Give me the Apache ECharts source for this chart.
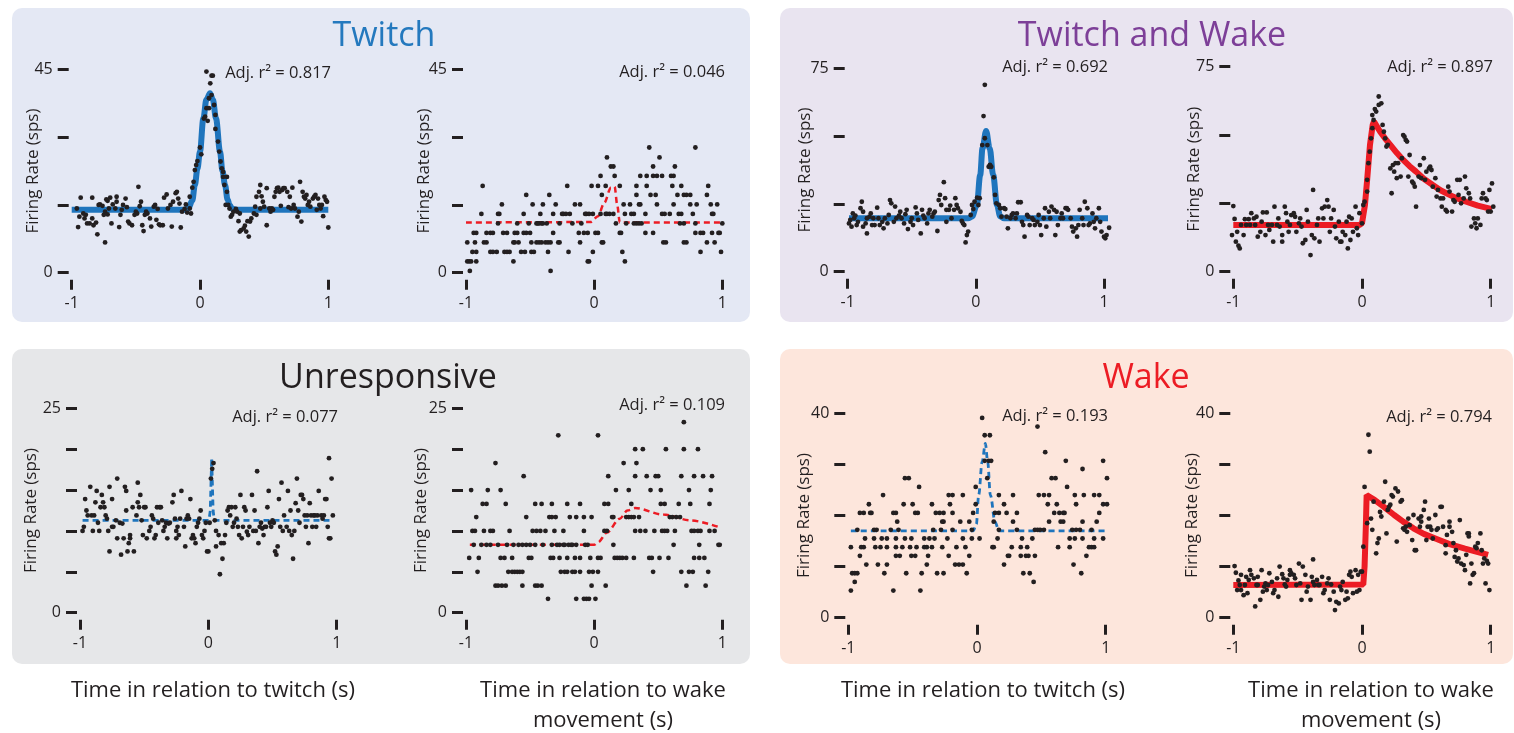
<!DOCTYPE html>
<html>
<head>
<meta charset="utf-8">
<script src="https://cdn.jsdelivr.net/npm/echarts@6/dist/echarts.min.js"></script>
<style>
  html, body { margin: 0; padding: 0; background: #ffffff; }
  #chart { width: 1514px; height: 733px; }
</style>
</head>
<body>
<div id="chart"></div>
<script>
// ---------- data ----------
const groupTitles = ['Twitch', 'Twitch and Wake', 'Unresponsive', 'Wake'];
const xTickValues = [-1, 0, 1];
const xAxisTitles = ['Time in relation to twitch (s)', 'Time in relation to wake\nmovement (s)'];
const yAxisTitle = 'Firing Rate (sps)';
const yMaxes = [45, 45, 75, 75, 25, 25, 40, 40];
const ySteps = [15, 15, 25, 25, 5, 5, 10, 10];
const adjR2 = ['0.817', '0.046', '0.692', '0.897', '0.077', '0.109', '0.193', '0.794'];

// Twitch-responsive unit, aligned to twitches
const twitchUnitTwitch = [[-0.96,14.2],[-0.95,10.1],[-0.93,16.6],[-0.94,12.4],[-0.91,13.1],[-0.90,12.0],[-0.89,12.8],[-0.88,10.9],[-0.86,10.9],[-0.84,16.6],[-0.84,12.0],[-0.83,10.5],[-0.81,11.1],[-0.80,8.5],[-0.79,15.0],[-0.78,15.1],[-0.76,14.8],[-0.75,12.8],[-0.74,13.5],[-0.73,16.2],[-0.74,6.7],[-0.72,15.9],[-0.72,12.9],[-0.71,14.2],[-0.70,16.6],[-0.69,10.9],[-0.68,15.1],[-0.66,14.2],[-0.65,16.8],[-0.65,15.7],[-0.63,10.1],[-0.62,12.8],[-0.61,13.9],[-0.60,15.0],[-0.58,16.4],[-0.57,14.5],[-0.56,11.3],[-0.55,10.9],[-0.53,10.5],[-0.51,12.8],[-0.50,13.5],[-0.49,13.1],[-0.48,19.0],[-0.47,14.7],[-0.46,15.7],[-0.45,10.5],[-0.44,9.2],[-0.43,12.8],[-0.42,13.5],[-0.41,13.1],[-0.39,12.0],[-0.38,10.2],[-0.36,14.6],[-0.35,15.0],[-0.34,11.7],[-0.33,14.1],[-0.32,10.7],[-0.31,10.5],[-0.29,10.5],[-0.28,16.6],[-0.26,17.3],[-0.25,14.2],[-0.23,15.0],[-0.22,10.2],[-0.21,15.7],[-0.19,17.6],[-0.18,17.9],[-0.17,16.4],[-0.16,15.3],[-0.15,10.0],[-0.14,13.5],[-0.12,14.1],[-0.11,15.1],[-0.10,13.3],[-0.08,16.8],[-0.08,14.2],[-0.07,13.1],[-0.06,18.8],
  [-0.05,20.1],[-0.04,22.7],[-0.03,23.8],[-0.02,24.7],[0.00,27.7],[0.01,26.2],[0.03,34.1],[0.04,34.5],[0.05,36.4],[0.06,33.6],[0.07,36.4],[0.07,38.6],[0.08,41.9],[0.09,43.6],[0.05,44.5],[0.10,43.6],[0.09,39.3],[0.11,37.1],[0.12,34.9],[0.12,31.8],[0.14,29.0],[0.15,26.8],[0.16,24.6],[0.17,23.1],[0.18,21.2],[0.18,22.3],[0.19,19.4],[0.20,15.0],[0.21,21.2],[0.21,17.9],[0.22,15.0],[0.23,14.2],[0.24,12.4],[0.25,12.8],[0.26,13.5],[0.28,14.1],[0.29,13.5],[0.30,11.4],[0.31,13.1],[0.31,9.1],[0.32,9.4],[0.34,9.8],[0.35,10.4],[0.36,9.1],[0.37,11.4],[0.38,8.0],[0.39,11.3],[0.40,12.0],[0.42,13.1],[0.43,14.6],[0.44,12.8],[0.44,16.8],[0.46,17.9],[0.47,19.4],[0.47,14.2],[0.48,16.9],[0.49,15.7],[0.50,14.6],[0.52,10.5],[0.52,18.7],[0.54,14.2],[0.55,13.5],[0.56,14.2],[0.57,13.9],[0.58,16.8],[0.59,17.9],[0.60,18.7],[0.61,18.8],[0.62,17.9],[0.63,14.8],[0.64,18.3],[0.65,18.7],[0.66,18.7],[0.68,17.9],[0.69,14.5],[0.70,16.8],[0.71,14.2],[0.72,18.8],[0.73,15.0],[0.74,14.2],[0.76,12.4],[0.77,13.5],[0.78,20.1],[0.79,11.3],[0.80,17.9],[0.81,16.8],[0.82,16.4],[0.83,17.2],[0.84,15.0],[0.85,15.7],[0.86,14.6],[0.88,16.4],[0.89,16.8],[0.90,17.2],[0.91,13.9],[0.92,16.4],[0.93,15.0],[0.94,14.2],[0.95,15.0],[0.96,12.5],[0.97,16.8],[0.98,16.1],[0.99,15.7],[1.00,10.0]];
const twitchUnitTwitchFit = [[-1,13.9],[-0.12,13.9],[-0.09,14.3],[-0.06,16.0],[-0.04,19.4],[-0.02,23.0],[0,26.8],[0.026,34.1],[0.05,38.3],[0.078,39.7],[0.10,38.3],[0.125,34.1],[0.156,26.8],[0.175,22.5],[0.195,19.4],[0.215,16.2],[0.23,15.0],[0.25,14.2],[0.28,13.9],[1,13.9]];

// Twitch-responsive unit, aligned to wake movements
const twitchUnitWake = [
  [0.43,27.7],[0.79,27.7],
  [0.10,25.5],[0.51,25.5],
  [0.13,23.5],[0.15,23.5],[0.46,23.5],[0.63,23.5],
  [0.05,21.4],[0.16,21.4],[0.36,21.4],[0.41,21.4],[0.46,21.4],[0.49,21.4],[0.53,21.4],[0.60,21.4],[0.62,21.4],
  [-0.87,19.2],[-0.21,19.2],[-0.02,19.2],[0.03,19.2],[0.09,19.2],[0.20,19.2],[0.33,19.2],[0.41,19.2],[0.61,19.2],[0.68,19.2],[0.89,19.2],
  [-0.53,17.2],[-0.35,17.2],[0.06,17.2],[0.33,17.2],[0.44,17.2],[0.48,17.2],[0.65,17.2],[0.70,17.2],[0.72,17.2],[0.75,17.2],[0.88,17.2],
  [-0.72,15.1],[-0.48,15.1],[-0.40,15.1],[-0.30,15.1],[-0.15,15.1],[-0.11,15.1],[0.23,15.1],[0.28,15.1],[0.35,15.1],[0.36,15.1],[0.49,15.1],[0.62,15.1],[0.75,15.1],[0.80,15.1],[0.91,15.1],[0.96,15.1],
  [-0.88,13.0],[-0.75,13.0],[-0.74,13.0],[-0.55,13.0],[-0.42,13.0],[-0.32,13.0],[-0.25,13.0],[-0.24,13.0],[-0.22,13.0],[-0.19,13.0],[-0.07,13.0],[-0.06,13.0],[-0.04,13.0],[-0.01,13.0],[0.05,13.0],[0.09,13.0],[0.10,13.0],[0.12,13.0],[0.15,13.0],[0.24,13.0],[0.29,13.0],[0.31,13.0],[0.40,13.0],[0.53,13.0],[0.55,13.0],[0.59,13.0],[0.66,13.0],[0.68,13.0],[0.77,13.0],[0.92,13.0],[0.93,13.0],
  [-0.75,10.9],[-0.60,10.9],[-0.51,10.9],[-0.45,10.9],[-0.44,10.9],[-0.43,10.9],[-0.41,10.9],[-0.40,10.9],[-0.37,10.9],[-0.27,10.9],[-0.17,10.9],[-0.10,10.9],[0.17,10.9],[0.25,10.9],[0.31,10.9],[0.33,10.9],[0.35,10.9],[0.37,10.9],[0.67,10.9],[0.70,10.9],[0.79,10.9],[1.00,10.9],
  [-0.94,8.8],[-0.92,8.8],[-0.84,8.8],[-0.81,8.8],[-0.79,8.8],[-0.71,8.8],[-0.68,8.8],[-0.62,8.8],[-0.60,8.8],[-0.55,8.8],[-0.53,8.8],[-0.50,8.8],[-0.32,8.8],[-0.12,8.8],[-0.08,8.8],[-0.05,8.8],[0.01,8.8],[0.03,8.8],[0.20,8.8],[0.21,8.8],[0.40,8.8],[0.46,8.8],[0.79,8.8],[0.83,8.8],[0.85,8.8],[0.92,8.8],[0.97,8.8],[0.98,8.8],
  [-0.99,6.7],[-0.93,6.7],[-0.86,6.7],[-0.84,6.7],[-0.63,6.7],[-0.62,6.7],[-0.59,6.7],[-0.49,6.7],[-0.45,6.7],[-0.43,6.7],[-0.41,6.7],[-0.38,6.7],[-0.36,6.7],[-0.34,6.7],[-0.28,6.7],[-0.27,6.7],[-0.11,6.7],[0.06,6.7],[0.07,6.7],[0.54,6.7],[0.56,6.7],[0.70,6.7],[0.72,6.7],[0.88,6.7],[0.94,6.7],
  [-0.95,4.6],[-0.92,4.6],[-0.81,4.6],[-0.79,4.6],[-0.76,4.6],[-0.70,4.6],[-0.68,4.6],[-0.66,4.6],[-0.57,4.6],[-0.54,4.6],[-0.49,4.6],[-0.47,4.6],[-0.36,4.6],[-0.20,4.6],[-0.01,4.6],[0.22,4.6],[0.83,4.6],[0.99,4.6],
  [-0.99,2.5],[-0.975,2.5],[-0.96,2.5],[-0.92,2.5],[-0.63,2.5],[-0.05,2.5],[-0.04,2.5],[0.24,2.5],
  [-0.97,0.4],[-0.34,0.4]];
const twitchUnitWakeFit = [[-1,11.1],[-0.03,11.2],[0.03,12.5],[0.08,15.5],[0.13,18.8],[0.16,19.0],[0.18,15.0],[0.20,11.1],[1,11.1]];

// Twitch-and-wake unit, aligned to twitches
const bothUnitTwitch = [[-0.99,17.8],[-0.98,19.1],[-0.97,16.6],[-0.96,21.5],[-0.95,19.7],[-0.94,20.7],[-0.93,17.2],[-0.92,18.4],[-0.90,23.4],[-0.89,25.8],[-0.88,22.1],[-0.88,16.6],[-0.86,17.8],[-0.85,14.1],[-0.85,19.7],[-0.83,20.3],[-0.82,21.5],[-0.81,17.2],[-0.80,19.7],[-0.79,17.2],[-0.77,23.6],[-0.76,19.7],[-0.75,17.2],[-0.73,18.4],[-0.72,16.0],[-0.71,19.7],[-0.69,17.8],[-0.68,20.9],[-0.67,26.4],[-0.66,25.2],[-0.64,18.4],[-0.63,24.0],[-0.62,19.7],[-0.60,20.7],[-0.59,22.1],[-0.58,19.7],[-0.56,17.8],[-0.55,21.2],[-0.54,22.8],[-0.53,15.7],[-0.51,18.4],[-0.50,19.7],[-0.49,17.2],[-0.47,23.7],[-0.46,21.5],[-0.45,19.1],[-0.43,14.1],[-0.42,22.8],[-0.41,20.7],[-0.40,19.7],[-0.38,17.8],[-0.37,21.5],[-0.36,22.8],[-0.34,20.3],[-0.33,21.5],[-0.32,22.1],[-0.30,15.0],[-0.29,26.4],[-0.28,28.3],[-0.27,24.6],[-0.25,33.0],[-0.24,27.1],[-0.23,22.8],[-0.23,18.4],[-0.21,22.8],[-0.20,24.4],[-0.19,19.7],[-0.17,22.8],[-0.16,27.1],[-0.15,24.6],[-0.14,23.4],[-0.12,22.1],[-0.11,18.7],[-0.10,17.8],[-0.09,17.2],[-0.08,10.8],[-0.07,13.5],[-0.06,14.8],[-0.04,20.9],[-0.03,24.6],[-0.02,23.1],[-0.01,25.8],[0.01,27.3],[0.02,24.6],[0.03,27.1],[0.05,46.7],[0.06,57.4],[0.07,68.9],[0.07,49.2],[0.09,46.7],[0.10,38.7],[0.11,39.4],[0.12,38.7],[0.14,34.8],[0.15,28.3],[0.16,25.2],[0.18,24.6],[0.19,23.4],[0.20,20.3],[0.22,23.4],[0.23,23.1],[0.24,20.3],[0.25,16.0],[0.27,19.7],[0.28,20.9],[0.29,21.5],[0.31,19.7],[0.32,21.5],[0.33,25.6],[0.35,25.6],[0.36,18.4],[0.37,17.2],[0.38,12.9],[0.40,20.9],[0.41,20.3],[0.42,17.2],[0.44,19.7],[0.45,19.1],[0.46,17.2],[0.48,18.4],[0.49,20.9],[0.50,17.2],[0.51,13.5],[0.53,19.7],[0.54,23.4],[0.55,16.6],[0.57,22.1],[0.58,19.7],[0.59,24.0],[0.61,22.8],[0.62,13.5],[0.63,22.1],[0.64,17.2],[0.66,19.7],[0.67,21.5],[0.68,19.7],[0.70,23.4],[0.71,23.4],[0.72,22.8],[0.74,19.7],[0.75,16.6],[0.76,14.8],[0.78,16.0],[0.79,12.9],[0.80,17.2],[0.81,22.8],[0.83,19.7],[0.84,17.2],[0.85,25.8],[0.87,23.4],[0.88,17.2],[0.89,17.8],[0.91,21.5],[0.92,18.4],[0.93,16.0],[0.94,19.7],[0.96,23.4],[0.97,18.4],[0.98,14.8],[1.00,12.9],[1.01,12.3],[1.02,13.5],[1.04,16.2]];
const bothUnitTwitchFit = [[-0.99,19.7],[-0.06,19.7],[-0.03,20.3],[0.008,24.6],[0.034,35.7],[0.052,45.5],[0.08,51.9],[0.108,45.5],[0.135,35.7],[0.165,24.6],[0.19,20.4],[0.22,19.7],[1.04,19.7]];

// Twitch-and-wake unit, aligned to wake movements
const bothUnitWake = [[-1.00,24.0],[-1.01,13.4],[-0.99,19.3],[-0.98,11.0],[-0.97,14.6],[-0.96,9.5],[-0.95,8.5],[-0.94,17.1],[-0.92,13.4],[-0.91,19.2],[-0.90,17.1],[-0.88,19.2],[-0.87,17.1],[-0.86,21.4],[-0.84,19.5],[-0.83,17.1],[-0.82,20.1],[-0.81,12.8],[-0.79,14.6],[-0.78,18.3],[-0.77,21.7],[-0.75,13.4],[-0.74,21.7],[-0.73,17.1],[-0.72,15.3],[-0.70,17.1],[-0.69,11.0],[-0.68,23.8],[-0.66,17.1],[-0.65,19.5],[-0.64,16.5],[-0.62,13.4],[-0.62,11.0],[-0.60,23.8],[-0.59,21.4],[-0.58,18.3],[-0.57,14.6],[-0.56,17.1],[-0.55,20.7],[-0.53,21.4],[-0.52,20.1],[-0.51,14.6],[-0.49,17.7],[-0.48,19.5],[-0.47,16.5],[-0.46,10.4],[-0.44,11.6],[-0.43,22.6],[-0.42,18.3],[-0.40,6.1],[-0.39,13.4],[-0.38,29.9],[-0.37,12.2],[-0.35,17.1],[-0.34,19.5],[-0.33,11.0],[-0.31,23.2],[-0.30,19.5],[-0.29,23.8],[-0.27,26.2],[-0.26,23.8],[-0.25,14.6],[-0.24,19.5],[-0.22,22.6],[-0.21,16.5],[-0.20,12.2],[-0.18,18.3],[-0.17,11.0],[-0.16,11.0],[-0.15,14.6],[-0.13,13.4],[-0.12,18.3],[-0.11,8.5],[-0.10,20.1],[-0.09,11.6],[-0.08,19.5],[-0.07,14.6],[-0.05,23.8],[-0.04,15.9],[-0.03,13.4],[-0.02,21.4],[0.00,17.7],[0.01,24.4],[0.02,25.6],[0.04,29.3],[0.04,33.6],[0.05,39.7],[0.06,43.9],[0.07,48.8],[0.08,52.5],[0.08,57.3],[0.09,55.5],[0.10,59.5],[0.11,58.6],[0.13,64.1],[0.13,61.0],[0.15,61.6],[0.16,53.7],[0.17,51.2],[0.18,48.8],[0.19,45.8],[0.20,46.4],[0.22,37.8],[0.23,28.7],[0.24,39.0],[0.25,36.6],[0.26,39.7],[0.27,34.2],[0.28,39.7],[0.30,34.8],[0.31,41.5],[0.32,50.0],[0.33,49.4],[0.34,48.2],[0.35,47.6],[0.36,34.8],[0.37,42.7],[0.39,32.9],[0.40,32.3],[0.41,31.1],[0.42,23.8],[0.44,34.8],[0.45,39.0],[0.46,34.2],[0.48,41.5],[0.49,33.6],[0.50,36.6],[0.52,37.8],[0.53,38.4],[0.54,37.2],[0.55,31.1],[0.57,34.2],[0.58,27.5],[0.59,29.9],[0.61,26.8],[0.62,23.8],[0.63,26.8],[0.65,22.6],[0.66,22.0],[0.67,31.1],[0.68,29.3],[0.70,22.0],[0.71,26.2],[0.72,25.6],[0.74,33.6],[0.75,28.1],[0.76,33.6],[0.77,25.0],[0.79,26.8],[0.80,34.8],[0.81,30.5],[0.83,28.7],[0.84,26.8],[0.85,16.5],[0.87,19.5],[0.88,17.7],[0.89,15.9],[0.90,19.5],[0.92,17.1],[0.93,26.8],[0.94,28.7],[0.96,26.8],[0.97,26.2],[0.98,22.0],[0.99,29.9],[1.01,32.3],[1.02,23.8],[1.00,22.0]];
const bothUnitWakeFit = [[-1,17.1],[-0.02,17.1],[0,17.7],[0.023,24.4],[0.041,34.2],[0.062,46.4],[0.083,53.7],[0.093,54.9],[0.14,51.3],[0.18,48.7],[0.22,46.4],[0.27,43.5],[0.32,40.9],[0.37,38.6],[0.42,36.6],[0.48,34.0],[0.55,31.7],[0.61,29.8],[0.68,28.1],[0.74,26.8],[0.81,25.6],[0.9,24.2],[1.01,22.9]];

// Unresponsive unit, aligned to twitches
const unrespUnitTwitch = [[-0.98,10.0],[-0.97,10.5],[-0.96,13.9],[-0.95,12.5],[-0.94,11.9],[-0.92,15.4],[-0.91,11.9],[-0.90,10.0],[-0.89,11.9],[-0.88,13.5],[-0.87,14.9],[-0.86,11.0],[-0.85,10.0],[-0.84,12.9],[-0.83,14.4],[-0.82,13.5],[-0.81,12.9],[-0.80,11.9],[-0.79,11.5],[-0.78,10.0],[-0.77,7.5],[-0.77,15.4],[-0.75,10.5],[-0.75,13.9],[-0.74,10.5],[-0.72,11.3],[-0.71,9.1],[-0.71,16.4],[-0.69,11.0],[-0.68,7.1],[-0.67,10.9],[-0.66,9.1],[-0.65,15.4],[-0.64,14.9],[-0.64,12.5],[-0.63,7.5],[-0.62,8.5],[-0.61,9.1],[-0.61,9.5],[-0.59,12.9],[-0.58,7.5],[-0.56,11.9],[-0.55,13.5],[-0.55,15.9],[-0.54,12.9],[-0.53,14.4],[-0.52,11.3],[-0.51,9.5],[-0.50,12.9],[-0.49,12.9],[-0.48,9.1],[-0.46,10.0],[-0.45,10.5],[-0.44,11.9],[-0.43,11.5],[-0.42,9.1],[-0.41,9.5],[-0.40,12.9],[-0.39,11.0],[-0.38,12.9],[-0.37,12.9],[-0.36,11.3],[-0.35,10.0],[-0.34,10.5],[-0.33,11.0],[-0.32,9.1],[-0.31,10.9],[-0.30,11.0],[-0.28,13.5],[-0.27,14.4],[-0.26,11.5],[-0.25,10.0],[-0.25,9.1],[-0.24,10.5],[-0.23,9.5],[-0.22,11.5],[-0.21,14.9],[-0.19,10.5],[-0.18,8.1],[-0.17,11.5],[-0.16,11.9],[-0.15,11.5],[-0.14,13.9],[-0.13,9.1],[-0.12,9.5],[-0.11,9.1],[-0.10,8.5],[-0.09,10.5],[-0.08,11.0],[-0.07,11.5],[-0.06,12.5],[-0.05,9.5],[-0.04,9.1],[-0.03,10.0],[-0.02,11.0],[-0.01,7.5],[0.00,7.5],[0.01,11.0],[0.02,16.4],[0.03,17.6],[0.04,18.3],[0.05,11.3],[0.06,10.0],[0.06,8.1],[0.08,9.5],[0.09,4.7],[0.10,8.5],[0.11,6.6],[0.12,8.5],[0.13,9.5],[0.14,11.0],[0.15,12.5],[0.16,12.9],[0.17,11.9],[0.18,12.9],[0.19,10.5],[0.20,11.0],[0.21,12.9],[0.22,11.5],[0.23,10.5],[0.24,9.5],[0.25,14.4],[0.26,9.1],[0.27,10.5],[0.28,12.9],[0.29,12.5],[0.30,9.9],[0.31,9.5],[0.32,10.5],[0.34,14.4],[0.35,10.0],[0.36,12.5],[0.37,10.0],[0.38,17.3],[0.39,8.5],[0.40,10.5],[0.41,11.0],[0.42,10.3],[0.43,9.5],[0.44,10.5],[0.45,10.5],[0.46,12.9],[0.47,14.9],[0.48,11.0],[0.49,10.5],[0.50,11.3],[0.51,11.0],[0.52,7.5],[0.53,7.1],[0.54,8.1],[0.55,13.9],[0.56,10.5],[0.57,15.9],[0.58,10.0],[0.59,11.9],[0.61,10.5],[0.62,14.9],[0.63,10.0],[0.64,12.5],[0.65,9.5],[0.66,6.6],[0.67,10.0],[0.68,13.4],[0.69,16.4],[0.70,12.5],[0.71,11.0],[0.72,14.4],[0.73,14.4],[0.74,13.9],[0.75,11.9],[0.76,10.5],[0.77,11.9],[0.78,8.5],[0.79,13.4],[0.80,11.9],[0.81,10.5],[0.82,11.9],[0.83,11.9],[0.84,10.5],[0.85,11.9],[0.86,14.9],[0.88,11.9],[0.89,11.5],[0.90,11.9],[0.91,13.9],[0.92,13.9],[0.93,10.5],[0.94,18.9],[0.94,9.1],[0.95,9.1],[0.96,16.4],[0.97,11.9]];
const unrespUnitTwitchFit = [[-0.98,11.3],[0.005,11.3],[0.015,12.5],[0.026,18.9],[0.037,12.5],[0.047,11.3],[0.97,11.3]];

// Unresponsive unit, aligned to wake movements
const unrespUnitWake = [
  [0.70,23.3],
  [-0.28,21.7],[0.03,21.7],
  [0.32,20.0],[0.38,20.0],[0.56,20.0],[0.70,20.0],[0.81,20.0],
  [-0.77,18.3],[0.23,18.3],[0.33,18.3],
  [-0.55,16.7],[0.11,16.7],[0.32,16.7],[0.41,16.7],[0.48,16.7],[0.50,16.7],[0.68,16.7],[0.78,16.7],[0.85,16.7],[0.92,16.7],
  [-0.96,15.0],[-0.83,15.0],[-0.73,15.0],[0.17,15.0],[0.27,15.0],[0.44,15.0],[0.52,15.0],[0.74,15.0],[0.91,15.0],
  [-0.87,13.3],[-0.84,13.3],[-0.69,13.3],[-0.46,13.3],[-0.41,13.3],[-0.33,13.3],[-0.21,13.3],[-0.11,13.3],[0.08,13.3],[0.11,13.3],[0.29,13.3],[0.52,13.3],[0.55,13.3],[0.66,13.3],[0.75,13.3],[0.90,13.3],
  [-0.92,11.7],[-0.53,11.7],[-0.35,11.7],[-0.33,11.7],[-0.30,11.7],[-0.19,11.7],[-0.14,11.7],[-0.08,11.7],[-0.02,11.7],[0.14,11.7],[0.15,11.7],[0.25,11.7],[0.27,11.7],[0.29,11.7],[0.31,11.7],[0.35,11.7],[0.59,11.7],[0.61,11.7],[0.64,11.7],[0.67,11.7],
  [-0.95,10.0],[-0.93,10.0],[-0.86,10.0],[-0.81,10.0],[-0.79,10.0],[-0.66,10.0],[-0.48,10.0],[-0.45,10.0],[-0.42,10.0],[-0.38,10.0],[-0.31,10.0],[-0.24,10.0],[-0.08,10.0],[0.08,10.0],[0.10,10.0],[0.32,10.0],[0.36,10.0],[0.40,10.0],[0.47,10.0],[0.53,10.0],[0.55,10.0],[0.57,10.0],[0.63,10.0],[0.76,10.0],[0.78,10.0],[0.81,10.0],[0.83,10.0],[0.90,10.0],[0.94,10.0],
  [-0.94,8.3],[-0.88,8.3],[-0.84,8.3],[-0.81,8.3],[-0.75,8.3],[-0.68,8.3],[-0.63,8.3],[-0.59,8.3],[-0.56,8.3],[-0.53,8.3],[-0.50,8.3],[-0.46,8.3],[-0.40,8.3],[-0.33,8.3],[-0.29,8.3],[-0.27,8.3],[-0.24,8.3],[-0.23,8.3],[-0.20,8.3],[-0.18,8.3],[-0.17,8.3],[-0.14,8.3],[-0.07,8.3],[-0.05,8.3],[0.15,8.3],[0.62,8.3],[0.82,8.3],[0.97,8.3],[0.98,8.3],
  [-0.975,6.7],[-0.90,6.7],[-0.73,6.7],[-0.70,6.7],[-0.64,6.7],[-0.51,6.7],[-0.49,6.7],[-0.34,6.7],[-0.32,6.7],[-0.27,6.7],[-0.21,6.7],[-0.15,6.7],[-0.11,6.7],[-0.03,6.7],[0.03,6.7],[0.05,6.7],[0.16,6.7],[0.18,6.7],[0.20,6.7],[0.22,6.7],[0.25,6.7],[0.31,6.7],[0.43,6.7],[0.45,6.7],[0.51,6.7],[0.58,6.7],[0.78,6.7],[0.82,6.7],[0.86,6.7],
  [-0.91,5.0],[-0.67,5.0],[-0.64,5.0],[-0.62,5.0],[-0.60,5.0],[-0.58,5.0],[-0.56,5.0],[-0.26,5.0],[-0.23,5.0],[-0.21,5.0],[-0.17,5.0],[-0.15,5.0],[-0.11,5.0],[-0.04,5.0],[-0.01,5.0],[0.03,5.0],[0.46,5.0],[0.68,5.0],[0.74,5.0],[0.77,5.0],[0.89,5.0],
  [-0.77,3.3],[-0.75,3.3],[-0.72,3.3],[-0.69,3.3],[-0.56,3.3],[-0.46,3.3],[-0.44,3.3],[-0.41,3.3],[-0.02,3.3],[0.09,3.3],[0.72,3.3],[0.87,3.3],
  [-0.36,1.7],[-0.14,1.7],[-0.08,1.7],[-0.06,1.7],[-0.04,1.7],[0.01,1.7]];
const unrespUnitWakeFit = [[-0.97,8.3],[0,8.3],[0.03,8.6],[0.1,9.8],[0.2,11.5],[0.26,12.5],[0.32,12.8],[0.54,12.0],[0.75,11.3],[0.97,10.5]];

// Wake-responsive unit, aligned to twitches
const wakeUnitTwitch = [
  [0.04,39.1],[0.47,37.4],[0.06,35.7],[0.10,35.7],[0.53,32.4],
  [0.06,30.7],[0.09,30.7],[0.11,30.7],[0.69,30.7],[0.98,30.7],
  [0.82,29.1],
  [-0.56,27.3],[-0.53,27.3],[0.08,27.3],[0.58,27.3],[0.61,27.3],[1.01,27.3],
  [-0.45,25.6],[-0.01,25.6],[0.70,25.6],
  [-0.73,24.0],[-0.22,24.0],[-0.19,24.0],[-0.11,24.0],[0.17,24.0],[0.28,24.0],[0.48,24.0],[0.52,24.0],[0.56,24.0],[0.76,24.0],[0.83,24.0],[0.91,24.0],[0.95,24.0],
  [-0.84,22.2],[-0.57,22.2],[-0.50,22.2],[-0.35,22.2],[-0.21,22.2],[-0.01,22.2],[0.21,22.2],[0.55,22.2],[0.62,22.2],[0.77,22.2],[0.98,22.2],[1.01,22.2],
  [-0.91,20.5],[-0.88,20.5],[-0.83,20.5],[-0.82,20.5],[-0.65,20.5],[-0.63,20.5],[-0.48,20.5],[-0.46,20.5],[-0.32,20.5],[-0.29,20.5],[-0.26,20.5],[-0.19,20.5],[-0.03,20.5],[0.14,20.5],[0.17,20.5],[0.23,20.5],[0.31,20.5],[0.60,20.5],[0.64,20.5],[0.67,20.5],[0.68,20.5],[0.95,20.5],
  [-0.62,18.8],[-0.27,18.8],[-0.26,18.8],[-0.13,18.8],[-0.06,18.8],[0.13,18.8],[0.28,18.8],[0.56,18.8],[0.65,18.8],[0.67,18.8],[0.82,18.8],[0.93,18.8],
  [-0.93,17.2],[-0.80,17.2],[-0.78,17.2],[-0.67,17.2],[-0.61,17.2],[-0.34,17.2],[-0.28,17.2],[-0.19,17.2],[-0.04,17.2],[0.17,17.2],[0.31,17.2],[0.45,17.2],[0.47,17.2],[0.49,17.2],[0.52,17.2],[0.74,17.2],[0.77,17.2],[0.80,17.2],[0.89,17.2],
  [-0.87,15.5],[-0.80,15.5],[-0.74,15.5],[-0.70,15.5],[-0.63,15.5],[-0.56,15.5],[-0.51,15.5],[-0.41,15.5],[-0.37,15.5],[-0.33,15.5],[-0.23,15.5],[-0.11,15.5],[-0.04,15.5],[0.02,15.5],[0.16,15.5],[0.35,15.5],[0.43,15.5],[0.72,15.5],[0.76,15.5],[0.82,15.5],[0.91,15.5],[0.98,15.5],
  [-0.98,13.8],[-0.90,13.8],[-0.88,13.8],[-0.79,13.8],[-0.75,13.8],[-0.70,13.8],[-0.63,13.8],[-0.58,13.8],[-0.52,13.8],[-0.47,13.8],[-0.41,13.8],[-0.39,13.8],[-0.35,13.8],[-0.27,13.8],[-0.16,13.8],[-0.09,13.8],[0.12,13.8],[0.13,13.8],[0.27,13.8],[0.34,13.8],[0.39,13.8],[0.63,13.8],[0.72,13.8],[0.87,13.8],[0.89,13.8],[0.91,13.8],
  [-0.91,12.1],[-0.63,12.1],[-0.60,12.1],[-0.51,12.1],[-0.48,12.1],[-0.38,12.1],[-0.22,12.1],[-0.06,12.1],[0.24,12.1],[0.25,12.1],[0.34,12.1],[0.38,12.1],[0.40,12.1],[0.45,12.1],[0.85,12.1],
  [-0.86,10.4],[-0.77,10.4],[-0.70,10.4],[-0.39,10.4],[-0.17,10.4],[-0.14,10.4],[-0.11,10.4],[0.21,10.4],[0.75,10.4],
  [-0.97,8.7],[-0.95,8.7],[-0.93,8.7],[-0.72,8.7],[-0.55,8.7],[-0.43,8.7],[-0.31,8.7],[-0.26,8.7],[-0.08,8.7],[0.36,8.7],[0.41,8.7],[0.81,8.7],
  [-0.95,7.0],[0.44,7.0],
  [-0.98,5.3],[-0.65,5.3],[-0.44,5.3]];
const wakeUnitTwitchFit = [[-0.98,17.0],[-0.03,17.0],[-0.005,18.3],[0.013,24.0],[0.04,30.5],[0.065,34.1],[0.083,30.5],[0.104,24.0],[0.14,18.8],[0.17,17.0],[1.0,17.0]];

// Wake-responsive unit, aligned to wake movements
const wakeUnitWake = [[-0.99,10.1],[-0.98,8.8],[-0.97,5.4],[-0.96,7.3],[-0.95,6.4],[-0.94,5.4],[-0.94,8.4],[-0.92,4.4],[-0.91,6.4],[-0.90,8.0],[-0.89,4.8],[-0.88,7.4],[-0.87,9.3],[-0.86,8.4],[-0.84,7.7],[-0.83,2.2],[-0.82,6.4],[-0.81,6.4],[-0.81,8.0],[-0.79,3.5],[-0.78,9.3],[-0.77,5.1],[-0.76,6.1],[-0.75,6.7],[-0.74,5.4],[-0.73,6.4],[-0.72,8.7],[-0.70,7.0],[-0.69,4.8],[-0.68,5.4],[-0.66,7.7],[-0.65,4.1],[-0.64,10.0],[-0.62,8.5],[-0.61,7.7],[-0.60,6.5],[-0.59,6.1],[-0.58,7.4],[-0.56,8.4],[-0.56,9.3],[-0.55,8.7],[-0.53,8.4],[-0.52,7.7],[-0.51,6.4],[-0.49,10.6],[-0.48,6.7],[-0.47,3.5],[-0.46,10.0],[-0.44,8.4],[-0.43,5.1],[-0.42,6.1],[-0.40,3.5],[-0.39,8.0],[-0.38,11.4],[-0.38,7.0],[-0.37,6.4],[-0.35,7.4],[-0.34,6.4],[-0.33,6.4],[-0.31,8.0],[-0.30,4.8],[-0.29,5.4],[-0.27,6.7],[-0.26,7.7],[-0.25,3.5],[-0.24,6.5],[-0.22,5.1],[-0.21,1.5],[-0.20,3.1],[-0.18,2.8],[-0.17,6.1],[-0.16,5.4],[-0.15,7.0],[-0.13,3.5],[-0.12,5.1],[-0.11,3.8],[-0.10,8.4],[-0.09,9.0],[-0.08,8.0],[-0.07,4.8],[-0.05,9.3],[-0.04,5.1],[-0.03,8.4],[-0.02,5.4],[-0.01,9.0],[0.00,9.0],[0.01,13.9],[0.02,25.6],[0.04,18.5],[0.05,35.8],[0.06,32.5],[0.07,19.4],[0.08,17.2],[0.09,22.7],[0.11,12.6],[0.12,14.6],[0.13,15.5],[0.14,20.7],[0.15,19.8],[0.17,22.7],[0.18,26.6],[0.19,16.5],[0.20,21.1],[0.21,21.7],[0.22,22.1],[0.23,24.0],[0.24,23.7],[0.26,25.3],[0.27,14.9],[0.28,24.7],[0.30,22.7],[0.31,23.0],[0.32,17.5],[0.33,17.2],[0.34,17.8],[0.35,16.8],[0.36,19.4],[0.37,18.1],[0.39,15.2],[0.40,20.1],[0.41,13.2],[0.42,13.2],[0.44,19.4],[0.45,17.8],[0.46,18.8],[0.46,19.8],[0.48,21.1],[0.49,22.7],[0.50,15.2],[0.51,17.8],[0.52,19.4],[0.53,17.8],[0.54,17.2],[0.55,15.5],[0.57,20.1],[0.58,17.2],[0.59,17.5],[0.61,21.7],[0.62,21.7],[0.63,17.8],[0.65,14.2],[0.65,12.6],[0.66,16.2],[0.68,18.8],[0.68,17.8],[0.70,16.8],[0.71,14.6],[0.72,11.9],[0.73,13.2],[0.74,11.0],[0.75,11.6],[0.76,19.1],[0.77,10.6],[0.79,10.3],[0.80,9.3],[0.81,12.3],[0.82,16.5],[0.83,15.9],[0.83,16.5],[0.84,6.7],[0.85,10.6],[0.86,8.4],[0.87,8.7],[0.88,13.9],[0.89,13.6],[0.90,14.6],[0.92,16.5],[0.93,13.2],[0.94,10.6],[0.95,11.6],[0.96,6.7],[0.97,11.1],[0.98,10.6],[0.99,5.4]];
const wakeUnitWakeFit = [[-1,6.4],[0.01,6.5],[0.02,10.0],[0.03,18.0],[0.036,24.0],[0.1,23.0],[0.17,21.7],[0.25,20.1],[0.32,18.8],[0.4,17.5],[0.48,16.4],[0.58,15.4],[0.68,14.4],[0.8,13.5],[0.98,12.3]];

// ---------- layout & styling ----------
const INK = '#231f20';
const BLUE = '#1f75bd';
const RED = '#ec1c24';
const FONT = '"Open Sans", "Noto Sans", sans-serif';

const panelPoints = [twitchUnitTwitch, twitchUnitWake, bothUnitTwitch, bothUnitWake,
                     unrespUnitTwitch, unrespUnitWake, wakeUnitTwitch, wakeUnitWake];
const panelFits = [twitchUnitTwitchFit, twitchUnitWakeFit, bothUnitTwitchFit, bothUnitWakeFit,
                   unrespUnitTwitchFit, unrespUnitWakeFit, wakeUnitTwitchFit, wakeUnitWakeFit];

// grid boxes [left, top, width, height] in px
const gridBoxes = [
  [71.7, 69.3, 256.6, 203.4], [466, 69.3, 256.3, 203.4],
  [847.7, 68.3, 256.3, 203.4], [1233.3, 66.7, 257.4, 205],
  [80, 408.3, 256.7, 204.4], [466, 408.3, 256.3, 204.4],
  [848.3, 413.3, 257.4, 204.4], [1233.3, 413.3, 257.4, 204.4]
];
const nameGaps = [27, 30, 31, 28, 37, 33, 33, 30];
// fit styles: [color, width, dashed, smooth]
const fitStyles = [
  [BLUE, 6, false, 0.35], [RED, 2.5, true, 0.3], [BLUE, 6, false, 0.35], [RED, 6, false, false],
  [BLUE, 2.8, true, false], [RED, 2.5, true, 0.3], [BLUE, 2.8, true, 0.35], [RED, 6, false, false]
];
// r² label anchors [right x, middle y]
const r2Anchors = [[331, 73], [725, 72], [1108, 67], [1493, 67], [338, 417], [725, 405], [1108, 416], [1492, 417]];

const boxes = [
  { x: 12, y: 8, w: 738, h: 314, fill: '#e4e8f4' },
  { x: 780, y: 8, w: 733, h: 314, fill: '#e9e4f0' },
  { x: 12, y: 349, w: 738, h: 315, fill: '#e6e7e9' },
  { x: 780, y: 349, w: 733, h: 315, fill: '#fde6dc' }
];
const titleStyles = [
  { x: 384, y: 36, color: '#2479be' },
  { x: 1152, y: 36, color: '#7d3f98' },
  { x: 388, y: 378, color: INK },
  { x: 1146, y: 378, color: RED }
];

const grids = [], xAxes = [], yAxes = [], series = [], graphics = [];

boxes.forEach(b => graphics.push({
  type: 'rect', z: -10, silent: true,
  shape: { x: b.x, y: b.y, width: b.w, height: b.h, r: 10 },
  style: { fill: b.fill }
}));

groupTitles.forEach((t, i) => graphics.push({
  type: 'text', z: 10, x: titleStyles[i].x, y: titleStyles[i].y,
  style: { text: t, font: '34px ' + FONT, fill: titleStyles[i].color,
           textAlign: 'center', textVerticalAlign: 'middle', align: 'center', verticalAlign: 'middle' }
}));

const bottomLabels = [
  { text: xAxisTitles[0], x: 213 }, { text: xAxisTitles[1], x: 603 },
  { text: xAxisTitles[0], x: 983 }, { text: xAxisTitles[1], x: 1371 }
];
bottomLabels.forEach(l => graphics.push({
  type: 'text', z: 10, x: l.x, y: 676,
  style: { text: l.text, font: '22px ' + FONT, fill: INK, lineHeight: 30,
           textAlign: 'center', textVerticalAlign: 'top', align: 'center', verticalAlign: 'top' }
}));

panelPoints.forEach((pts, i) => {
  const [l, t, w, h] = gridBoxes[i];
  grids.push({ left: l, top: t, width: w, height: h, containLabel: false });
  xAxes.push({
    gridIndex: i, type: 'value', min: -1, max: 1, interval: 1, offset: 7, position: 'bottom',
    axisLine: { show: false, onZero: false },
    axisTick: { show: true, length: 10, lineStyle: { color: INK, width: 3 } },
    axisLabel: { margin: 16, color: INK, fontSize: 16, fontFamily: FONT,
                 formatter: v => (xTickValues.includes(v) ? String(v) : '') },
    splitLine: { show: false }
  });
  const yMax = yMaxes[i];
  yAxes.push({
    gridIndex: i, type: 'value', min: 0, max: yMax, interval: ySteps[i], offset: 3, position: 'left',
    name: yAxisTitle, nameLocation: 'middle', nameGap: nameGaps[i], nameMoveOverlap: false,
    nameTextStyle: { color: INK, fontSize: 17, fontFamily: FONT },
    axisLine: { show: false, onZero: false },
    axisTick: { show: true, length: 11, lineStyle: { color: INK, width: 3 } },
    axisLabel: { margin: 16, color: INK, fontSize: 16, fontFamily: FONT,
                 formatter: v => (v === 0 || v === yMax ? String(v) : '') },
    splitLine: { show: false }
  });
  const [fc, fw, dashed, smooth] = fitStyles[i];
  series.push({
    type: 'line', xAxisIndex: i, yAxisIndex: i, data: panelFits[i],
    showSymbol: false, symbol: 'none', smooth: smooth, smoothMonotone: 'x', clip: false,
    lineStyle: { color: fc, width: fw, type: dashed ? [6, 4] : 'solid', cap: 'butt' },
    z: 2, silent: true, animation: false
  });
  series.push({
    type: 'scatter', xAxisIndex: i, yAxisIndex: i, data: pts,
    symbolSize: 4.8, itemStyle: { color: INK, opacity: 1 }, clip: false,
    z: 3, silent: true, animation: false
  });
  graphics.push({
    type: 'text', z: 10, x: r2Anchors[i][0], y: r2Anchors[i][1],
    style: { text: 'Adj. r\u00b2 = ' + adjR2[i], font: '16.5px ' + FONT, fill: INK,
             textAlign: 'right', textVerticalAlign: 'middle', align: 'right', verticalAlign: 'middle' }
  });
});

const chart = echarts.init(document.getElementById('chart'));
chart.setOption({
  animation: false,
  backgroundColor: '#ffffff',
  grid: grids, xAxis: xAxes, yAxis: yAxes, series: series,
  graphic: { elements: graphics }
});
</script>
</body>
</html>
